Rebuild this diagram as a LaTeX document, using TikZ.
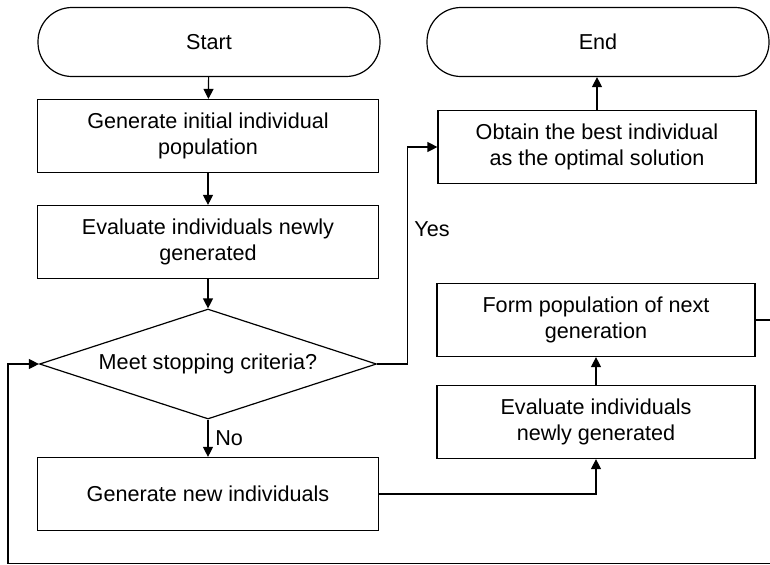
\documentclass[tikz,border=0pt]{standalone}
\usepackage{fontspec}
\setmainfont{Liberation Sans}
\usetikzlibrary{shapes.geometric,arrows.meta}
\tikzstyle{term}=[rectangle,draw=black,line width=.6pt,rounded corners=17pt,minimum width=171pt,minimum height=34.5pt]
\tikzstyle{proc}=[rectangle,draw=black,line width=.6pt,minimum width=170.5pt,minimum height=36.5pt,align=center]
\tikzstyle{procr}=[proc,minimum width=159pt]
\tikzstyle{dec}=[diamond,aspect=3.06,draw=black,line width=.6pt,minimum width=168.5pt,minimum height=55pt,inner sep=0pt]
\tikzstyle{flow}=[-{Triangle[length=5pt,width=5pt]},line width=.6pt]

\begin{document}
\begin{tikzpicture}[x=.5pt,y=-.5pt,font=\fontsize{10.8}{13}\selectfont]
\useasboundingbox (0,0) rectangle (770,564);
\clip (0,0) rectangle (770,564);
\node[term] (start) at (209,42) {Start};
\node[term] (end) at (598,42) {End};
\node[proc] (init) at (208,136) {Generate initial individual\\population};
\node[proc] (eval) at (208,242) {Evaluate individuals newly\\generated};
\node[dec] (stop) at (208,364) {Meet stopping criteria?};
\node[proc] (new) at (208,494) {Generate new individuals};
\node[procr] (best) at (597,147) {Obtain the best individual\\as the optimal solution};
\node[procr] (form) at (596,320) {Form population of next\\generation};
\node[procr] (evalnew) at (596,422) {Evaluate individuals\\newly generated};
\coordinate (loopBL) at (8,563.5);
\draw[flow] (start) -- (init);
\draw[flow] (init) -- (eval);
\draw[flow] (eval) -- (stop);
\draw[flow] (stop) -- node[right] {No} (new);
\draw[flow] (stop.east) -- ++(30,0) |- (best.west) node[right,pos=.31] {Yes};
\draw[flow] (new.east) -| (evalnew.south);
\draw[flow] (evalnew) -- (form);
\draw[flow] (best.north) -- (best.north |- end.south);
%loop back to the test
\draw[flow] (form.east) -- ++(40,0) |- (loopBL) |- (stop.west);
\end{tikzpicture}
\end{document}
